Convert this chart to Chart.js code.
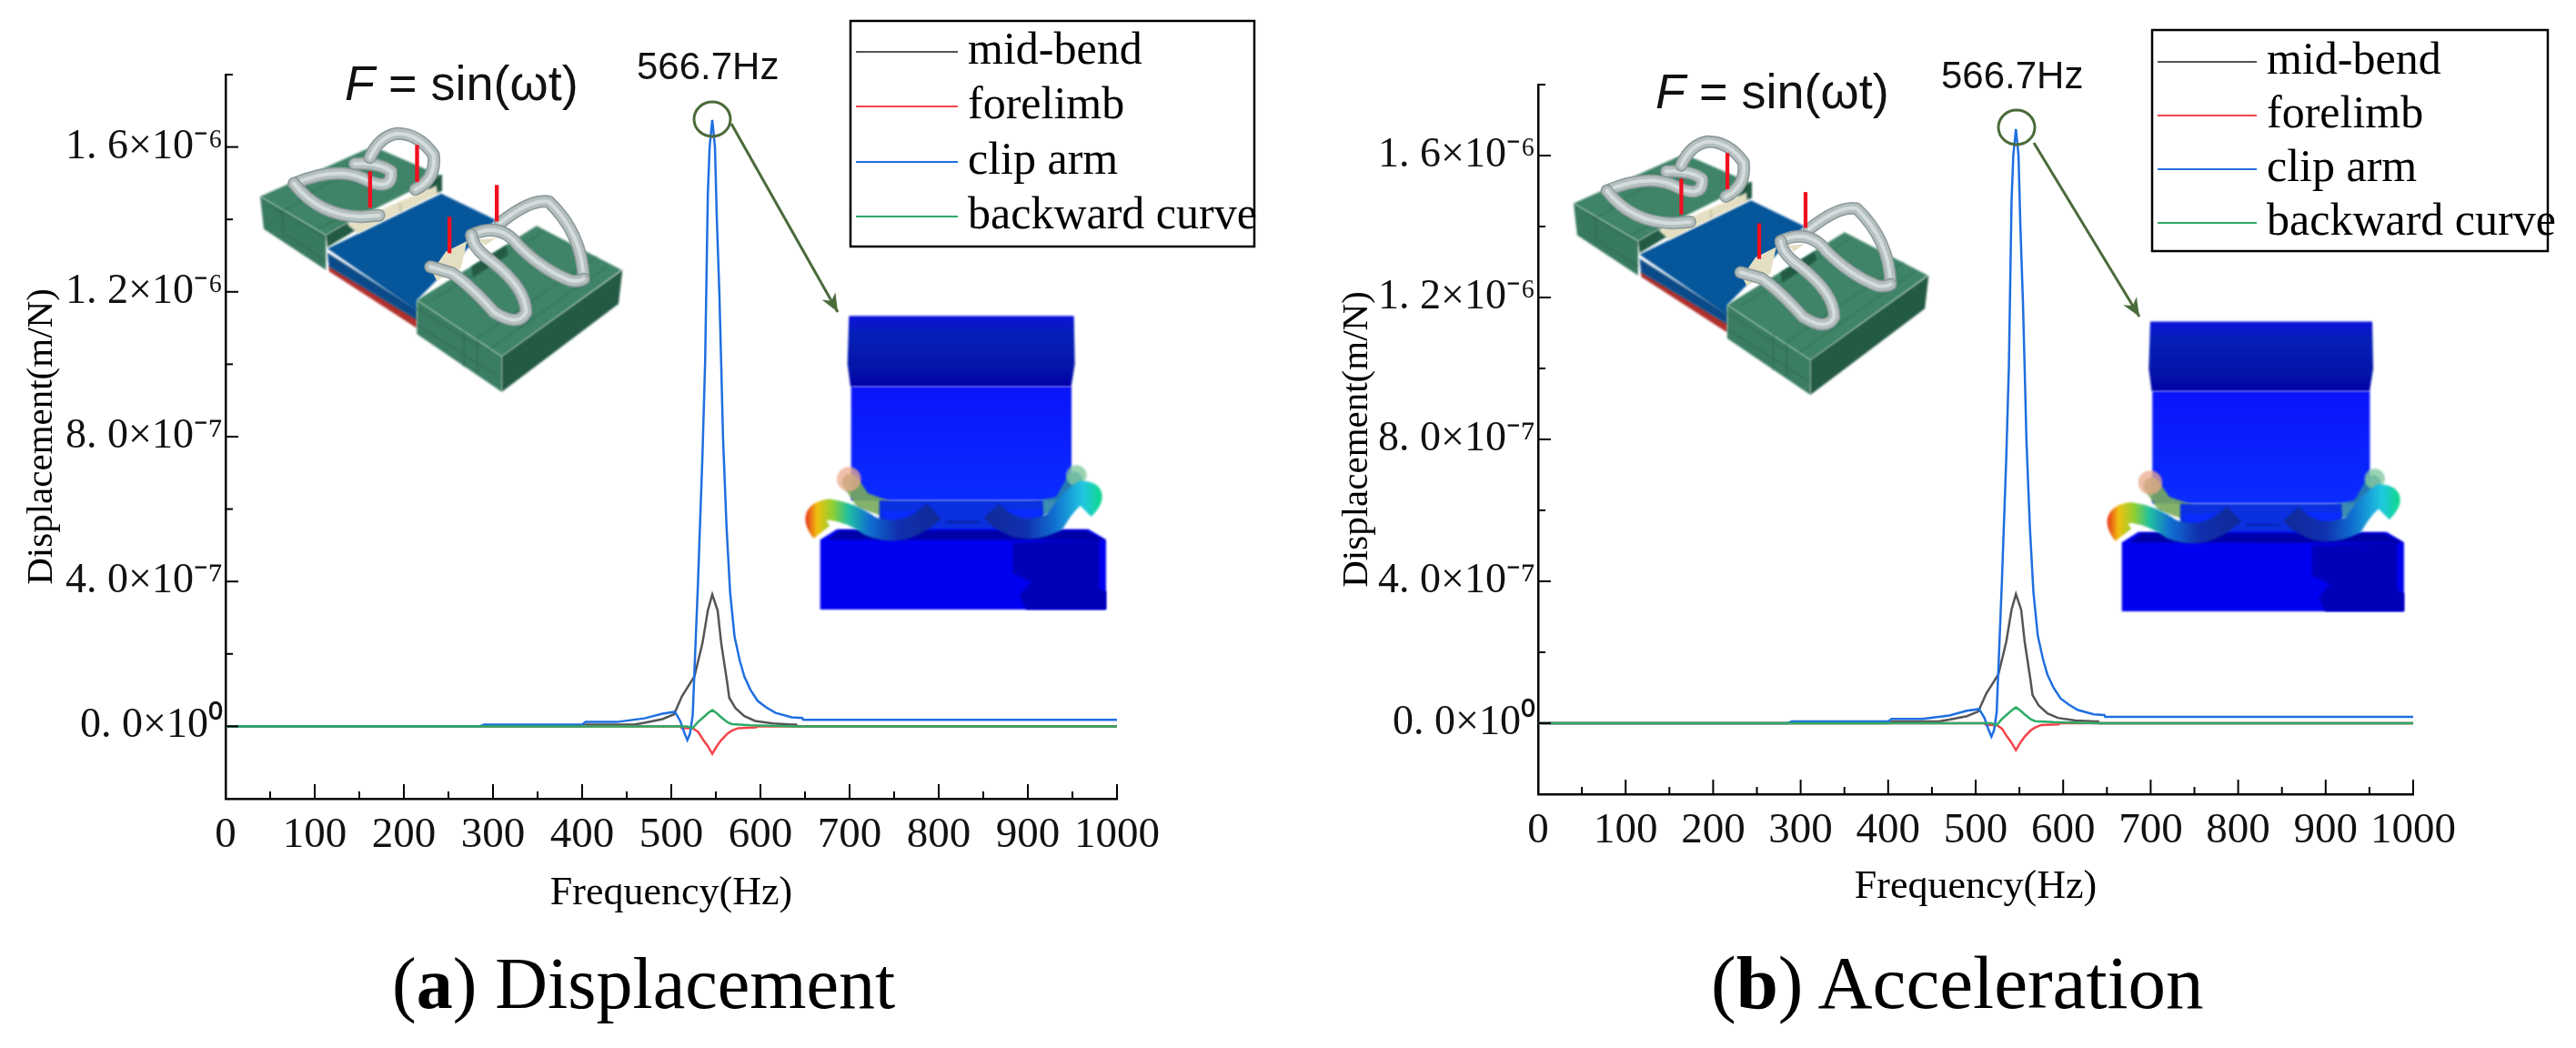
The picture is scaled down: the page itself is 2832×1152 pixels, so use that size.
<!DOCTYPE html>
<html>
<head>
<meta charset="utf-8">
<title>Frequency response</title>
<script src="https://cdn.jsdelivr.net/npm/chart.js@4"></script>
<style>
    html, body { margin: 0; padding: 0; background: #fff; }
    body { width: 2832px; height: 1152px; position: relative; overflow: hidden; }
    canvas { position: absolute; top: 0; }
    #chartA { left: 0; }
    #chartB { left: 1416px; }
    .caption { position: absolute; font-family: "Liberation Serif", serif; line-height: 92px; color: #000; white-space: nowrap; }
</style>
</head>
<body>
<canvas id="chartA" width="1416" height="1152"></canvas>
<canvas id="chartB" width="1416" height="1152"></canvas>
<div class="caption" style="left:431px;top:1035px;font-size:80px">(<b>a</b>) Displacement</div>
<div class="caption" style="left:1881px;top:1034px;font-size:83px">(<b>b</b>) Acceleration</div>
<script>
// Valeurs, amplitude en 1e-7 m/N
const seriesNames = ['mid-bend', 'forelimb', 'clip arm', 'backward curve'];
const seriesColors = ['#555555', '#f4444a', '#1f6fe0', '#2eaa66'];

const midBendFreq = [0, 400, 405, 458, 470, 490, 503, 512, 526, 535, 541, 546, 552, 556, 563, 565, 572, 582, 594, 614, 636, 640, 641, 1000];
const midBendVal = [0, 0, 0.05, 0.05, 0.1, 0.2, 0.33, 0.83, 1.38, 2.3, 3.2, 3.64, 3.2, 2.3, 1.16, 0.79, 0.5, 0.28, 0.15, 0.08, 0.05, 0.05, 0, 0];

const forelimbFreq = [0, 510, 512, 524, 530, 536, 541, 546, 551, 556, 563, 568, 575, 595, 596, 1000];
const forelimbVal = [0, 0, -0.05, -0.05, -0.15, -0.38, -0.55, -0.76, -0.55, -0.38, -0.2, -0.12, -0.05, -0.03, 0, 0];

const clipArmFreq = [0, 285, 290, 400, 404, 439, 470, 490, 504, 510, 515, 518, 521, 524, 530, 535, 538, 541, 543, 546, 549, 551, 554, 556, 558, 562, 566, 571, 577, 582, 589, 597, 606, 617, 635, 647, 648, 1000];
const clipArmVal = [0, 0, 0.05, 0.05, 0.12, 0.12, 0.22, 0.35, 0.4, 0.15, -0.2, -0.38, -0.2, 0.3, 4, 7.5, 10.1, 14.7, 16, 16.75, 16, 14.1, 11.9, 10, 8, 5.5, 3.7, 2.47, 1.8, 1.37, 1, 0.7, 0.53, 0.37, 0.25, 0.23, 0.18, 0.18];

const backwardFreq = [0, 518, 524, 530, 536, 541, 546, 551, 556, 563, 568, 589, 640, 1000];
const backwardVal = [0, 0, -0.05, 0.12, 0.25, 0.36, 0.45, 0.36, 0.25, 0.11, 0.06, 0.03, 0, 0];

const xTickValues = [0, 50, 100, 150, 200, 250, 300, 350, 400, 450, 500, 550, 600, 650, 700, 750, 800, 850, 900, 950, 1000];
const yTickValues = [-2, 0, 2, 4, 6, 8, 10, 12, 14, 16, 18];
const yTickLabels = ['', '0. 0×10⁰', '', '4. 0×10⁻⁷', '', '8. 0×10⁻⁷', '', '1. 2×10⁻⁶', '', '1. 6×10⁻⁶', ''];

const xTitle = 'Frequency(Hz)';
const yTitle = 'Displacement(m/N)';
const peakLabel = '566.7Hz';

const serif = '"Liberation Serif", serif';
const sans = '"Liberation Sans", sans-serif';

function poly(ctx, color, pts) {
    ctx.fillStyle = color;
    ctx.beginPath();
    pts.forEach((p, i) => i ? ctx.lineTo(p[0], p[1]) : ctx.moveTo(p[0], p[1]));
    ctx.closePath();
    ctx.fill();
}

function seg(ctx, color, width, pts) {
    ctx.strokeStyle = color;
    ctx.lineWidth = width;
    ctx.beginPath();
    pts.forEach((p, i) => i ? ctx.lineTo(p[0], p[1]) : ctx.moveTo(p[0], p[1]));
    ctx.stroke();
}

// Tube gris du ressort : tracé foncé, puis clair par-dessus
function tube(ctx, path) {
    const draw = (color, w) => {
        ctx.strokeStyle = color;
        ctx.lineWidth = w;
        ctx.lineCap = 'round';
        ctx.lineJoin = 'round';
        ctx.beginPath();
        ctx.moveTo(path[0][0], path[0][1]);
        for (let i = 1; i < path.length; i++) {
            const c = path[i];
            if (c.length === 4) ctx.quadraticCurveTo(c[0], c[1], c[2], c[3]);
            else ctx.lineTo(c[0], c[1]);
        }
        ctx.stroke();
    };
    draw('#8d9a9a', 42);
    draw('#b4bfbf', 32);
    draw('#d5dcdc', 12);
}

// Maquette 3D (vert / bleu / ressorts)
function drawModel(ctx) {
    ctx.save();
    ctx.filter = 'blur(1px)';
    // bloc arrière
    poly(ctx, '#3f8468', [[108, 258], [480, 92], [705, 190], [395, 345], [325, 385]]);
    poly(ctx, '#387a5f', [[108, 258], [325, 385], [325, 500], [120, 365]]);
    poly(ctx, '#235a44', [[325, 385], [395, 345], [430, 365], [330, 425]]);
    poly(ctx, '#235a44', [[640, 215], [708, 185], [708, 240], [680, 250]]);
    [[[140, 285], [330, 400]], [[180, 300], [185, 390]], [[195, 385], [325, 470]], [[230, 270], [390, 180]], [[185, 305], [270, 260]], [[300, 365], [410, 310]]].forEach(l => seg(ctx, '#2a5c48', 2, l));
    // plaque bleue et bande rouge
    poly(ctx, '#b0302c', [[335, 485], [625, 660], [625, 692], [335, 505]]);
    poly(ctx, '#0a4a88', [[330, 445], [625, 630], [625, 665], [335, 490]]);
    poly(ctx, '#06569c', [[330, 430], [705, 248], [885, 335], [625, 600], [625, 635]]);
    seg(ctx, '#063a68', 2, [[330, 445], [625, 630]]);
    // pièces beiges
    poly(ctx, '#e4dfc3', [[395, 350], [690, 222], [692, 250], [430, 380]]);
    seg(ctx, '#8b8a70', 2, [[510, 305], [510, 335]]);
    seg(ctx, '#8b8a70', 2, [[570, 280], [570, 310]]);
    // bloc avant
    poly(ctx, '#3f8468', [[625, 600], [1020, 355], [1300, 500], [905, 785]]);
    poly(ctx, '#3a7d62', [[625, 600], [905, 785], [905, 902], [625, 712]]);
    poly(ctx, '#235a44', [[905, 785], [1303, 500], [1290, 612], [905, 902]]);
    poly(ctx, '#235a44', [[805, 490], [920, 420], [925, 450], [810, 525]]);
    [[[625, 625], [825, 755]], [[625, 680], [905, 860]], [[780, 695], [780, 820]], [[825, 725], [825, 840]], [[825, 725], [1220, 455]], [[860, 765], [1250, 490]], [[675, 600], [1040, 375]]].forEach(l => seg(ctx, '#2a5c48', 2, l));
    ctx.filter = 'none';
    poly(ctx, '#e4dfc3', [[720, 440], [790, 405], [770, 495], [690, 535], [675, 505]]);
    poly(ctx, '#e4dfc3', [[830, 400], [885, 395], [850, 420]]);
    // ressorts
    tube(ctx, [[220, 215], [350, 160, 440, 195], [545, 250, 540, 175], [500, 145, 420, 150]]);
    tube(ctx, [[220, 215], [300, 320, 440, 325], [500, 320]]);
    tube(ctx, [[620, 235], [690, 200, 680, 120], [630, 50, 560, 50], [500, 60, 470, 130]]);
    tube(ctx, [[900, 345], [1000, 265, 1060, 275], [1170, 380, 1175, 530]]);
    tube(ctx, [[805, 385], [900, 340, 960, 420], [1040, 500, 1130, 535], [1160, 540, 1175, 530]]);
    tube(ctx, [[805, 385], [810, 430, 870, 470], [985, 560, 985, 640], [960, 690, 880, 640], [800, 550, 740, 510], [670, 490]]);
    // flèches rouges
    ctx.fillStyle = '#f0101f';
    [[470, 175, 295], [625, 88, 210], [732, 325, 445], [888, 220, 340]].forEach(a => ctx.fillRect(a[0] - 6, a[1], 13, a[2] - a[1]));
    ctx.restore();
}

// Déformée colorée du mode propre
function drawModeShape(ctx) {
    ctx.save();
    ctx.filter = 'blur(0.8px)';
    let g = ctx.createLinearGradient(0, 52, 0, 285);
    g.addColorStop(0, '#0a10d8');
    g.addColorStop(0.25, '#0620b8');
    g.addColorStop(0.75, '#0414a8');
    g.addColorStop(1, '#0000a8');
    ctx.fillStyle = g;
    ctx.beginPath();
    ctx.moveTo(160, 52); ctx.lineTo(902, 52); ctx.lineTo(905, 210); ctx.lineTo(893, 285);
    ctx.lineTo(165, 285); ctx.lineTo(155, 210); ctx.closePath();
    ctx.fill();
    g = ctx.createLinearGradient(0, 285, 0, 660);
    g.addColorStop(0, '#0a14fa');
    g.addColorStop(1, '#0a2cff');
    ctx.fillStyle = g;
    ctx.fillRect(167, 285, 727, 375);
    // spires fantômes
    ctx.lineCap = 'round';
    seg(ctx, 'rgba(120,170,90,0.9)', 55, [[165, 600], [205, 660], [320, 700]]);
    seg(ctx, 'rgba(40,130,170,0.9)', 50, [[905, 590], [860, 670], [750, 695]]);
    ctx.fillStyle = 'rgba(235,170,140,0.75)';
    ctx.beginPath(); ctx.arc(160, 590, 40, 0, 7); ctx.fill();
    ctx.fillStyle = 'rgba(130,200,160,0.8)';
    ctx.beginPath(); ctx.arc(910, 578, 34, 0, 7); ctx.fill();
    poly(ctx, '#0a30e0', [[260, 660], [800, 660], [800, 780], [260, 780]]);
    poly(ctx, '#0a2cff', [[268, 695], [440, 695], [360, 745], [290, 735]]);
    poly(ctx, '#0a2cff', [[680, 690], [800, 690], [790, 730], [700, 740]]);
    seg(ctx, '#081a80', 4, [[480, 732], [590, 732]]);
    // base
    poly(ctx, '#0000f0', [[65, 790], [120, 755], [950, 755], [1008, 790], [1008, 1020], [65, 1020]]);
    poly(ctx, '#0000b8', [[700, 800], [985, 790], [985, 950], [1008, 960], [1008, 1020], [745, 1020], [722, 975], [760, 930], [700, 900]]);
    poly(ctx, '#0000a8', [[90, 790], [130, 760], [940, 760], [1005, 792]]);
    // spires avant
    ctx.lineCap = 'butt';
    g = ctx.createLinearGradient(20, 0, 450, 0);
    g.addColorStop(0, '#e8401a');
    g.addColorStop(0.08, '#f0c010');
    g.addColorStop(0.2, '#90d030');
    g.addColorStop(0.32, '#20c0a0');
    g.addColorStop(0.48, '#1070d0');
    g.addColorStop(0.7, '#1030b0');
    g.addColorStop(1, '#102a98');
    ctx.strokeStyle = g;
    ctx.lineWidth = 68;
    ctx.beginPath();
    ctx.moveTo(70, 765);
    ctx.quadraticCurveTo(20, 700, 95, 690);
    ctx.quadraticCurveTo(170, 700, 230, 745);
    ctx.quadraticCurveTo(340, 790, 440, 695);
    ctx.stroke();
    g = ctx.createLinearGradient(990, 0, 610, 0);
    g.addColorStop(0, '#10d890');
    g.addColorStop(0.15, '#20c8e0');
    g.addColorStop(0.4, '#1070d0');
    g.addColorStop(0.65, '#1030b0');
    g.addColorStop(1, '#102a98');
    ctx.strokeStyle = g;
    ctx.beginPath();
    ctx.moveTo(935, 690);
    ctx.quadraticCurveTo(990, 635, 930, 630);
    ctx.quadraticCurveTo(880, 660, 840, 730);
    ctx.quadraticCurveTo(720, 790, 630, 695);
    ctx.stroke();
    ctx.restore();
}

// Axes, cotes et légende dessinés par-dessus le graphe
const figurePlugin = {
    id: 'figurePlugin',
    afterDatasetsDraw(chart, args, opts) {
        const ctx = chart.ctx;
        const xs = chart.scales.x;
        const ys = chart.scales.y;
        const area = chart.chartArea;

        // graduations vers l'intérieur
        ctx.save();
        ctx.strokeStyle = '#000';
        ctx.lineWidth = 2;
        xs.ticks.forEach(t => {
            const px = xs.getPixelForValue(t.value);
            const len = t.value % 100 === 0 ? 16 : 8;
            ctx.beginPath(); ctx.moveTo(px, area.bottom); ctx.lineTo(px, area.bottom - len); ctx.stroke();
        });
        ys.ticks.forEach(t => {
            const py = ys.getPixelForValue(t.value);
            const len = yTickLabels[yTickValues.indexOf(t.value)] ? 14 : 8;
            ctx.beginPath(); ctx.moveTo(area.left, py); ctx.lineTo(area.left + len, py); ctx.stroke();
        });
        ctx.restore();

        // illustrations
        ctx.save();
        ctx.translate(opts.model[0], opts.model[1]);
        ctx.scale(opts.model[2], opts.model[2]);
        drawModel(ctx);
        ctx.restore();
        ctx.save();
        ctx.translate(opts.mode[0], opts.mode[1]);
        ctx.scale(opts.mode[2], opts.mode[2]);
        drawModeShape(ctx);
        ctx.restore();

        // repère du pic
        ctx.save();
        ctx.strokeStyle = '#4a6b3a';
        ctx.lineWidth = 3;
        ctx.beginPath();
        ctx.ellipse(opts.circle[0], opts.circle[1], 20, 19, 0, 0, Math.PI * 2);
        ctx.stroke();
        const [ax, ay, bx, by] = opts.arrow;
        ctx.beginPath(); ctx.moveTo(ax, ay); ctx.lineTo(bx, by); ctx.stroke();
        const ang = Math.atan2(by - ay, bx - ax);
        ctx.fillStyle = '#4a6b3a';
        ctx.beginPath();
        ctx.moveTo(bx, by);
        ctx.lineTo(bx - 22 * Math.cos(ang - 0.4), by - 22 * Math.sin(ang - 0.4));
        ctx.lineTo(bx - 14 * Math.cos(ang), by - 14 * Math.sin(ang));
        ctx.lineTo(bx - 22 * Math.cos(ang + 0.4), by - 22 * Math.sin(ang + 0.4));
        ctx.closePath();
        ctx.fill();
        ctx.restore();

        // textes
        ctx.save();
        ctx.fillStyle = '#111';
        ctx.textBaseline = 'alphabetic';
        ctx.textAlign = 'left';
        ctx.font = '42px ' + sans;
        ctx.fillText(peakLabel, opts.peakText[0], opts.peakText[1]);
        ctx.font = 'italic 54px ' + sans;
        ctx.fillText('F', opts.force[0], opts.force[1]);
        const fw = ctx.measureText('F').width;
        ctx.font = '54px ' + sans;
        ctx.fillText(' = sin(ωt)', opts.force[0] + fw, opts.force[1]);
        ctx.restore();

        // légende
        const lg = opts.legend;
        ctx.save();
        ctx.strokeStyle = '#000';
        ctx.lineWidth = 2.5;
        ctx.strokeRect(lg.left, lg.top, lg.right - lg.left, lg.bottom - lg.top);
        ctx.font = '50px ' + serif;
        ctx.textBaseline = 'middle';
        ctx.textAlign = 'left';
        seriesNames.forEach((name, i) => {
            ctx.strokeStyle = seriesColors[i];
            ctx.lineWidth = 2;
            ctx.beginPath();
            ctx.moveTo(lg.lineFrom, lg.rows[i]);
            ctx.lineTo(lg.lineTo, lg.rows[i]);
            ctx.stroke();
            ctx.fillStyle = '#000';
            ctx.fillText(name, lg.textX, lg.rows[i]);
        });
        ctx.restore();
    }
};

function toPoints(freq, val) {
    return freq.map((f, i) => ({ x: f, y: val[i] }));
}

function makeChart(id, geom, annot) {
    const pairs = [
        [midBendFreq, midBendVal, 3],
        [forelimbFreq, forelimbVal, 2],
        [clipArmFreq, clipArmVal, 1],
        [backwardFreq, backwardVal, 0]
    ];
    return new Chart(document.getElementById(id), {
        type: 'line',
        data: {
            datasets: pairs.map((p, i) => ({
                label: seriesNames[i],
                data: toPoints(p[0], p[1]),
                order: p[2],
                borderColor: seriesColors[i],
                borderWidth: 2.5,
                pointRadius: 0,
                tension: 0,
                fill: false
            }))
        },
        plugins: [figurePlugin],
        options: {
            responsive: false,
            animation: false,
            devicePixelRatio: 1,
            events: [],
            layout: { padding: { left: 0, top: geom.top, right: geom.right, bottom: geom.bottom } },
            plugins: { legend: { display: false }, tooltip: { enabled: false }, figurePlugin: annot },
            scales: {
                x: {
                    type: 'linear',
                    min: 0,
                    max: 1000,
                    grid: { display: false, drawTicks: false },
                    border: { display: true, color: '#000', width: 2.5 },
                    afterBuildTicks: s => { s.ticks = xTickValues.map(v => ({ value: v })); },
                    afterFit: s => { s.height = 137; s.paddingLeft = 0; s.paddingRight = 0; },
                    ticks: {
                        autoSkip: false,
                        maxRotation: 0,
                        minRotation: 0,
                        padding: 12,
                        color: '#111',
                        font: { family: serif, size: 47 },
                        callback: v => (v % 100 === 0 ? String(v) : '')
                    },
                    title: {
                        display: true,
                        text: xTitle,
                        color: '#000',
                        font: { family: serif, size: 44 },
                        padding: { top: 0, bottom: geom.xTitlePad }
                    }
                },
                y: {
                    type: 'linear',
                    min: -2,
                    max: 18,
                    grid: { display: false, drawTicks: false },
                    border: { display: true, color: '#000', width: 2.5 },
                    afterBuildTicks: s => { s.ticks = yTickValues.map(v => ({ value: v })); },
                    afterFit: s => { s.width = geom.left; s.paddingTop = 0; s.paddingBottom = 0; },
                    ticks: {
                        autoSkip: false,
                        padding: 3,
                        color: '#111',
                        font: { family: serif, size: 46 },
                        callback: v => yTickLabels[yTickValues.indexOf(v)]
                    },
                    title: {
                        display: true,
                        text: yTitle,
                        color: '#000',
                        font: { family: serif, size: 41 },
                        padding: { top: geom.yTitlePad, bottom: 0 }
                    }
                }
            }
        }
    });
}

makeChart('chartA',
    { left: 248, top: 82, right: 188, bottom: 137, xTitlePad: 6, yTitlePad: 22 },
    {
        model: [250, 130, 1 / 3],
        mode: [880, 330, 1 / 3],
        circle: [783, 131],
        arrow: [804, 136, 921, 343],
        peakText: [700, 87],
        force: [379, 110],
        legend: { left: 935, top: 23, right: 1379, bottom: 271, rows: [57, 117, 178, 238], lineFrom: 941, lineTo: 1053, textX: 1064 }
    });

makeChart('chartB',
    { left: 275, top: 93, right: 179, bottom: 142, xTitlePad: 8, yTitlePad: 52 },
    {
        model: [278.7, 139.3, 0.3267],
        mode: [895.3, 336.3, 0.329],
        circle: [801, 140],
        arrow: [820, 157, 936, 348],
        peakText: [718, 97],
        force: [404, 119],
        legend: { left: 950, top: 33, right: 1385, bottom: 276, rows: [68, 127, 186, 245], lineFrom: 956, lineTo: 1065, textX: 1076 }
    });
</script>
</body>
</html>
